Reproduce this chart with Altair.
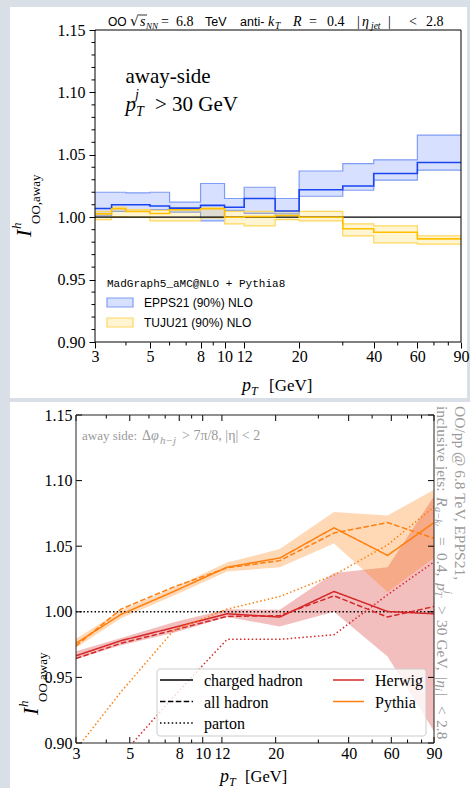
import altair as alt
import pandas as pd

# ---------------- top panel data (step histograms) ----------------
edges = [3, 3.5, 4, 5, 6, 8, 10, 12, 16, 20, 30, 40, 60, 90]
epps_c = [1.007, 1.010, 1.010, 1.009, 1.0073, 1.0095, 1.008, 1.015, 1.005, 1.022, 1.025, 1.035, 1.0438]
epps_hi = [1.020, 1.020, 1.0195, 1.020, 1.012, 1.027, 1.015, 1.024, 1.015, 1.037, 1.043, 1.046, 1.0657]
epps_lo = [1.001, 1.0046, 1.006, 1.006, 1.004, 0.997, 1.0054, 1.003, 1.0027, 1.0168, 1.0216, 1.0297, 1.0378]
tuju_c = [1.0027, 1.0068, 1.0046, 1.003, 1.006, 1.0068, 1.000, 1.0005, 1.0014, 1.000, 0.9908, 0.988, 0.9826]
tuju_hi = [1.0046, 1.008, 1.006, 1.0055, 1.0075, 1.0075, 1.0046, 1.0046, 1.0046, 1.0046, 0.9946, 0.993, 0.985]
tuju_lo = [0.998, 1.0005, 1.000, 0.997, 0.997, 0.9995, 0.9946, 0.993, 0.998, 0.997, 0.985, 0.9795, 0.9785]

# ---------------- bottom panel data ----------------
pt = [3, 4.6, 7.6, 12.6, 20.8, 34.8, 57.9, 90]
py_ch = [0.976, 0.998, 1.0155, 1.034, 1.041, 1.064, 1.043, 1.068]
py_all = [0.974, 1.002, 1.019, 1.0335, 1.039, 1.060, 1.068, 1.056]
py_par = [0.895, 0.939, 0.986, 1.002, 1.0117, 1.028, 1.051, 1.080]
py_lo = [0.9726, 0.995, 1.0125, 1.0307, 1.034, 1.052, 1.015, 1.041]
py_hi = [0.9794, 1.001, 1.0185, 1.0376, 1.0478, 1.076, 1.0734, 1.093]
hw_ch = [0.9665, 0.978, 0.988, 0.9985, 0.996, 1.0155, 1.0002, 0.9985]
hw_all = [0.9644, 0.976, 0.986, 0.9965, 0.997, 1.0122, 0.996, 1.004]
hw_par = [0.82, 0.89, 0.9355, 0.979, 0.979, 0.9825, 1.013, 1.038]
hw_lo = [0.964, 0.9745, 0.984, 0.996, 0.9888, 1.000, 0.966, 0.909]
hw_hi = [0.970, 0.980, 0.992, 1.002, 1.0015, 1.0295, 1.034, 1.088]

# ---------------- ticks ----------------
x_major = [3, 5, 8, 10, 12, 20, 40, 60, 90]
x_minor = [4, 6, 7, 9, 30, 50, 70, 80]
y_major = [0.90, 0.95, 1.00, 1.05, 1.10, 1.15]
y_minor = [0.91, 0.92, 0.93, 0.94, 0.96, 0.97, 0.98, 0.99, 1.01, 1.02, 1.03, 1.04,
           1.06, 1.07, 1.08, 1.09, 1.11, 1.12, 1.13, 1.14]

SERIF = "Liberation Serif"
SANS = "Liberation Sans"
MONO = "Liberation Mono"
BG = "#d9dfe7"
BLUE, BLUE_EDGE, BLUE_FILL = "#1a44f0", "#7f9cf5", "#4a74ff"
GOLD, GOLD_EDGE, GOLD_FILL = "#ffc000", "#ffd75e", "#ffcc22"
RED, ORANGE = "#d62728", "#ff7f0e"
GREY = "#9a9a9a"

W1, H1 = 366, 312
W2, H2 = 358, 328

one = pd.DataFrame({"k": [0]})


def T(s, x, y, size=16, font=SERIF, style="normal", angle=0, align="left",
      baseline="alphabetic", color="black"):
    return alt.Chart(one).mark_text(
        text=s, font=font, fontSize=size, fontStyle=style, angle=angle,
        align=align, baseline=baseline, color=color
    ).encode(x=alt.value(x), y=alt.value(y))


def R(x, x2, y, color="black", width=1.0, dash=None):
    kw = dict(color=color, strokeWidth=width)
    if dash:
        kw["strokeDash"] = dash
    return alt.Chart(one).mark_rule(**kw).encode(x=alt.value(x), x2=alt.value(x2), y=alt.value(y))


# ======================= TOP PANEL =======================
xs1 = alt.Scale(type="log", domain=[3, 90], nice=False)
ys1 = alt.Scale(domain=[0.90, 1.15], nice=False, zero=False)
ax1x = alt.Axis(values=x_major, format="d", tickSize=6, tickColor="black", domain=False,
                labelFont=SERIF, labelFontSize=16, labelColor="black", labelPadding=0,
                labelOverlap=False, labelFlush=False, labelBound=False, grid=False,
                title=None, zindex=1)
ax1y = alt.Axis(values=y_major, format=".2f", tickSize=6, tickColor="black", domain=False,
                labelFont=SERIF, labelFontSize=16, labelColor="black", labelPadding=4,
                labelOverlap=False, labelFlush=False, labelBound=False, grid=False,
                title=None, zindex=1)


def X1(f):
    return alt.X(f, type="quantitative", scale=xs1, axis=ax1x)


def Y1(f):
    return alt.Y(f, type="quantitative", scale=ys1, axis=ax1y)


def step(vals):
    return pd.DataFrame({"pt": edges, "v": vals + [vals[-1]]})


def band(lo, hi):
    return pd.DataFrame({"pt": edges, "lo": lo + [lo[-1]], "hi": hi + [hi[-1]]})


card1 = alt.Chart(one).mark_rect(color="white").encode(
    x=alt.value(-85), x2=alt.value(372), y=alt.value(-23), y2=alt.value(368))

top_layers = [card1]
for lo, hi, fill, op, edge in [(epps_lo, epps_hi, BLUE_FILL, 0.22, BLUE_EDGE),
                               (tuju_lo, tuju_hi, GOLD_FILL, 0.2, GOLD_EDGE)]:
    top_layers.append(alt.Chart(band(lo, hi)).mark_area(
        interpolate="step-after", color=fill, opacity=op).encode(x=X1("pt"), y=Y1("lo"), y2="hi"))
    for vals in (lo, hi):
        top_layers.append(alt.Chart(step(vals)).mark_line(
            interpolate="step-after", color=edge, strokeWidth=1.2).encode(x=X1("pt"), y=Y1("v")))

top_layers.append(alt.Chart(pd.DataFrame({"pt": [3, 90], "v": [1.0, 1.0]})).mark_line(
    color="black", strokeWidth=1.2).encode(x=X1("pt"), y=Y1("v")))
top_layers.append(alt.Chart(step(epps_c)).mark_line(
    interpolate="step-after", color=BLUE, strokeWidth=1.6).encode(x=X1("pt"), y=Y1("v")))
top_layers.append(alt.Chart(step(tuju_c)).mark_line(
    interpolate="step-after", color=GOLD, strokeWidth=1.6).encode(x=X1("pt"), y=Y1("v")))

# minor ticks (outside)
top_layers.append(alt.Chart(pd.DataFrame({"pt": x_minor})).mark_rule(color="black").encode(
    x=X1("pt"), y=alt.value(H1), y2=alt.value(H1 + 3.5)))
top_layers.append(alt.Chart(pd.DataFrame({"v": y_minor})).mark_rule(color="black").encode(
    y=Y1("v"), x=alt.value(-3.5), x2=alt.value(0)))
# frame
top_layers.append(alt.Chart(one).mark_rect(fillOpacity=0, stroke="black", strokeWidth=1).encode(
    x=alt.value(0), x2=alt.value(W1), y=alt.value(0), y2=alt.value(H1)))

# title line
top_layers += [
    T("OO", 13, -4, 12, SANS),
    T("√", 35, -4, 14, "DejaVu Serif"),
    R(43.5, 52, -15, width=0.8),
    T("s", 45, -4, 14, style="italic"),
    T("NN", 51, -1, 9, style="italic"),
    T("=", 66, -4, 14),
    T("6.8", 81, -4, 14),
    T("TeV", 110, -4, 12.5, SANS),
    T("anti-", 145, -4, 12.5, SANS),
    T("k", 173, -4, 14, style="italic"),
    T("T", 180, -1, 9.5, style="italic"),
    T("R", 198, -4, 14, style="italic"),
    T("=", 214, -4, 14),
    T("0.4", 232, -4, 14),
    T("|", 262, -4, 14),
    T("η", 267, -4, 14, style="italic"),
    T("jet", 276, -1, 9.5, style="italic"),
    T("|", 293, -4, 14),
    T("<", 314, -4, 14),
    T("2.8", 331, -4, 14),
]
# annotation
top_layers += [
    T("away-side", 30.5, 53, 21),
    T("p", 30.5, 81, 21, style="italic"),
    T("j", 40, 69, 14, style="italic"),
    T("T", 41, 86, 14, style="italic"),
    T("> 30 GeV", 60, 81, 21),
]
# legend
top_layers += [
    T("MadGraph5_aMC@NLO + Pythia8", 12, 257, 11, MONO),
    alt.Chart(one).mark_rect(color=BLUE_FILL, opacity=0.22).encode(
        x=alt.value(12), x2=alt.value(38), y=alt.value(268), y2=alt.value(277)),
    alt.Chart(one).mark_rect(fillOpacity=0, stroke=BLUE_EDGE, strokeWidth=1.2).encode(
        x=alt.value(12), x2=alt.value(38), y=alt.value(268), y2=alt.value(277)),
    T("EPPS21 (90%) NLO", 49, 277, 12, SANS),
    alt.Chart(one).mark_rect(color=GOLD_FILL, opacity=0.2).encode(
        x=alt.value(12), x2=alt.value(38), y=alt.value(288), y2=alt.value(297)),
    alt.Chart(one).mark_rect(fillOpacity=0, stroke=GOLD_EDGE, strokeWidth=1.2).encode(
        x=alt.value(12), x2=alt.value(38), y=alt.value(288), y2=alt.value(297)),
    T("TUJU21 (90%) NLO", 49, 297, 12, SANS),
]
# axis titles
top_layers += [
    T("p", 147, 361, 18, style="italic"),
    T("T", 156, 365, 12, style="italic"),
    T("[GeV]", 174, 361, 17),
    T("I", -64, 207, 22, style="italic", angle=270),
    T("h", -74, 199, 13, style="italic", angle=270),
    T("OO,away", -55, 194, 13, angle=270),
]

top = alt.layer(*top_layers).properties(width=W1, height=H1)

# ======================= BOTTOM PANEL =======================
xs2 = alt.Scale(type="log", domain=[3, 90], nice=False)
ys2 = alt.Scale(domain=[0.90, 1.15], nice=False, zero=False)
ax2x = alt.Axis(values=x_major, format="d", ticks=False, domain=False,
                labelFont=SERIF, labelFontSize=16, labelColor="black", labelPadding=2,
                labelOverlap=False, labelFlush=False, labelBound=False, grid=False,
                title=None, zindex=1)
ax2y = alt.Axis(values=y_major, format=".2f", ticks=False, domain=False,
                labelFont=SERIF, labelFontSize=16, labelColor="black", labelPadding=4,
                labelOverlap=False, labelFlush=False, labelBound=False, grid=False,
                title=None, zindex=1)


def X2(f):
    return alt.X(f, type="quantitative", scale=xs2, axis=ax2x)


def Y2(f):
    return alt.Y(f, type="quantitative", scale=ys2, axis=ax2y)


card2 = alt.Chart(one).mark_rect(color="white").encode(
    x=alt.value(-66), x2=alt.value(394), y=alt.value(-13), y2=alt.value(373))

bands2 = pd.concat([
    pd.DataFrame({"pt": pt, "lo": hw_lo, "hi": hw_hi, "model": "Herwig"}),
    pd.DataFrame({"pt": pt, "lo": py_lo, "hi": py_hi, "model": "Pythia"}),
])
lines2 = pd.concat([
    pd.DataFrame({"pt": pt, "v": vals, "model": m, "kind": k})
    for m, k, vals in [
        ("Herwig", "charged", hw_ch), ("Herwig", "all", hw_all), ("Herwig", "parton", hw_par),
        ("Pythia", "charged", py_ch), ("Pythia", "all", py_all), ("Pythia", "parton", py_par),
    ]
])
cscale = alt.Scale(domain=["Herwig", "Pythia"], range=[RED, ORANGE])

bot_layers = [card2]
bot_layers.append(alt.Chart(bands2).mark_area(opacity=0.3, clip=True).encode(
    x=X2("pt"), y=Y2("lo"), y2="hi",
    color=alt.Color("model:N", scale=cscale, legend=None), detail="model:N"))
bot_layers.append(alt.Chart(pd.DataFrame({"pt": [3, 90], "v": [1.0, 1.0]})).mark_line(
    color="black", strokeWidth=1.4, strokeDash=[1.5, 2.2]).encode(x=X2("pt"), y=Y2("v")))
bot_layers.append(alt.Chart(lines2).mark_line(strokeWidth=1.5, clip=True).encode(
    x=X2("pt"), y=Y2("v"),
    color=alt.Color("model:N", scale=cscale, legend=None),
    strokeDash=alt.StrokeDash("kind:N", scale=alt.Scale(
        domain=["charged", "all", "parton"], range=[[1, 0], [5.5, 2.4], [1.5, 2.4]]), legend=None)))

# inside ticks on all four sides
xmaj = pd.DataFrame({"pt": x_major})
xmin = pd.DataFrame({"pt": x_minor})
ymaj = pd.DataFrame({"v": y_major})
bot_layers += [
    alt.Chart(xmaj).mark_rule(color="black").encode(x=X2("pt"), y=alt.value(H2), y2=alt.value(H2 - 6)),
    alt.Chart(xmin).mark_rule(color="black").encode(x=X2("pt"), y=alt.value(H2), y2=alt.value(H2 - 3.5)),
    alt.Chart(xmaj).mark_rule(color="black").encode(x=X2("pt"), y=alt.value(0), y2=alt.value(6)),
    alt.Chart(xmin).mark_rule(color="black").encode(x=X2("pt"), y=alt.value(0), y2=alt.value(3.5)),
    alt.Chart(ymaj).mark_rule(color="black").encode(y=Y2("v"), x=alt.value(0), x2=alt.value(6)),
    alt.Chart(ymaj).mark_rule(color="black").encode(y=Y2("v"), x=alt.value(W2), x2=alt.value(W2 - 6)),
]
bot_layers.append(alt.Chart(one).mark_rect(fillOpacity=0, stroke="#222", strokeWidth=1).encode(
    x=alt.value(0), x2=alt.value(W2), y=alt.value(0), y2=alt.value(H2)))

bot_layers += [
    T("away side:", 6, 25, 13, color=GREY),
    T("Δ", 66, 25, 14, color=GREY),
    T("φ", 75, 25, 14, style="italic", color=GREY),
    T("h−j", 84, 29, 11, style="italic", color=GREY),
    T("> 7π/8, |η| < 2", 106, 25, 14, color=GREY),
]
# right-side rotated note (reads top to bottom)
RS = 15.5
SUB = 10.5
bot_layers += [
    T("OO/pp @ 6.8 TeV, EPPS21,", 384, -9, RS, angle=90, baseline="middle", color=GREY),
    T("inclusive jets:", 366, -9, RS, angle=90, baseline="middle", color=GREY),
    T("R", 366, 82, RS, style="italic", angle=90, baseline="middle", color=GREY),
    T("a−k", 362, 92, SUB, style="italic", angle=90, baseline="middle", color=GREY),
    T("t", 360, 109, 8, style="italic", angle=90, baseline="middle", color=GREY),
    T("=", 366, 122, RS, angle=90, baseline="middle", color=GREY),
    T("0.4,", 366, 138, RS, angle=90, baseline="middle", color=GREY),
    T("p", 366, 168, RS, style="italic", angle=90, baseline="middle", color=GREY),
    T("j", 372, 176, SUB, style="italic", angle=90, baseline="middle", color=GREY),
    T("T", 362, 176, SUB, style="italic", angle=90, baseline="middle", color=GREY),
    T(">", 366, 191, RS, angle=90, baseline="middle", color=GREY),
    T("30 GeV,", 366, 205, RS, angle=90, baseline="middle", color=GREY),
    T("|η", 366, 261, RS, style="italic", angle=90, baseline="middle", color=GREY),
    T("j", 362, 273, SUB, style="italic", angle=90, baseline="middle", color=GREY),
    T("|", 366, 278, RS, angle=90, baseline="middle", color=GREY),
    T("<", 366, 291, RS, angle=90, baseline="middle", color=GREY),
    T("2.8", 366, 305, RS, angle=90, baseline="middle", color=GREY),
]
# legend
bot_layers += [
    alt.Chart(one).mark_rect(color="white", opacity=0.8, cornerRadius=3).encode(
        x=alt.value(81), x2=alt.value(350), y=alt.value(254), y2=alt.value(321)),
    alt.Chart(one).mark_rect(fillOpacity=0, stroke="#cccccc", strokeWidth=1, cornerRadius=3).encode(
        x=alt.value(81), x2=alt.value(350), y=alt.value(254), y2=alt.value(321)),
    R(84, 117, 265, color="black", width=1.5),
    R(84, 117, 286.5, color="black", width=1.5, dash=[5.5, 2.4]),
    R(84, 117, 308, color="black", width=1.5, dash=[1.5, 2.4]),
    T("charged hadron", 128, 266, 16, baseline="middle"),
    T("all hadron", 128, 287.5, 16, baseline="middle"),
    T("parton", 128, 309, 16, baseline="middle"),
    R(257, 288, 265, color=RED, width=1.5),
    R(257, 288, 286.5, color=ORANGE, width=1.5),
    T("Herwig", 299, 266, 16, baseline="middle"),
    T("Pythia", 299, 287.5, 16, baseline="middle"),
]
bot_layers += [
    T("p", 144, 367, 18, style="italic"),
    T("T", 153, 371, 12, style="italic"),
    T("[GeV]", 169, 367, 16.5),
    T("I", -38, 300, 22, style="italic", angle=270),
    T("h", -48, 292, 13, style="italic", angle=270),
    T("OO,away", -29, 287, 13, angle=270),
]

bottom = alt.layer(*bot_layers).properties(width=W2, height=H2)

spacer = alt.Chart(one).mark_point(opacity=0).encode(
    x=alt.value(0), y=alt.value(0)).properties(width=19, height=10)

chart = alt.vconcat(
    alt.hconcat(spacer, top, spacing=0, bounds="flush"),
    bottom,
    spacing=4,
).properties(
    padding={"left": 10, "top": 7, "right": 0, "bottom": 0},
    background=BG,
).configure_view(strokeWidth=0)

chart.save("out.html", embed_options={"renderer": "svg", "actions": False})
